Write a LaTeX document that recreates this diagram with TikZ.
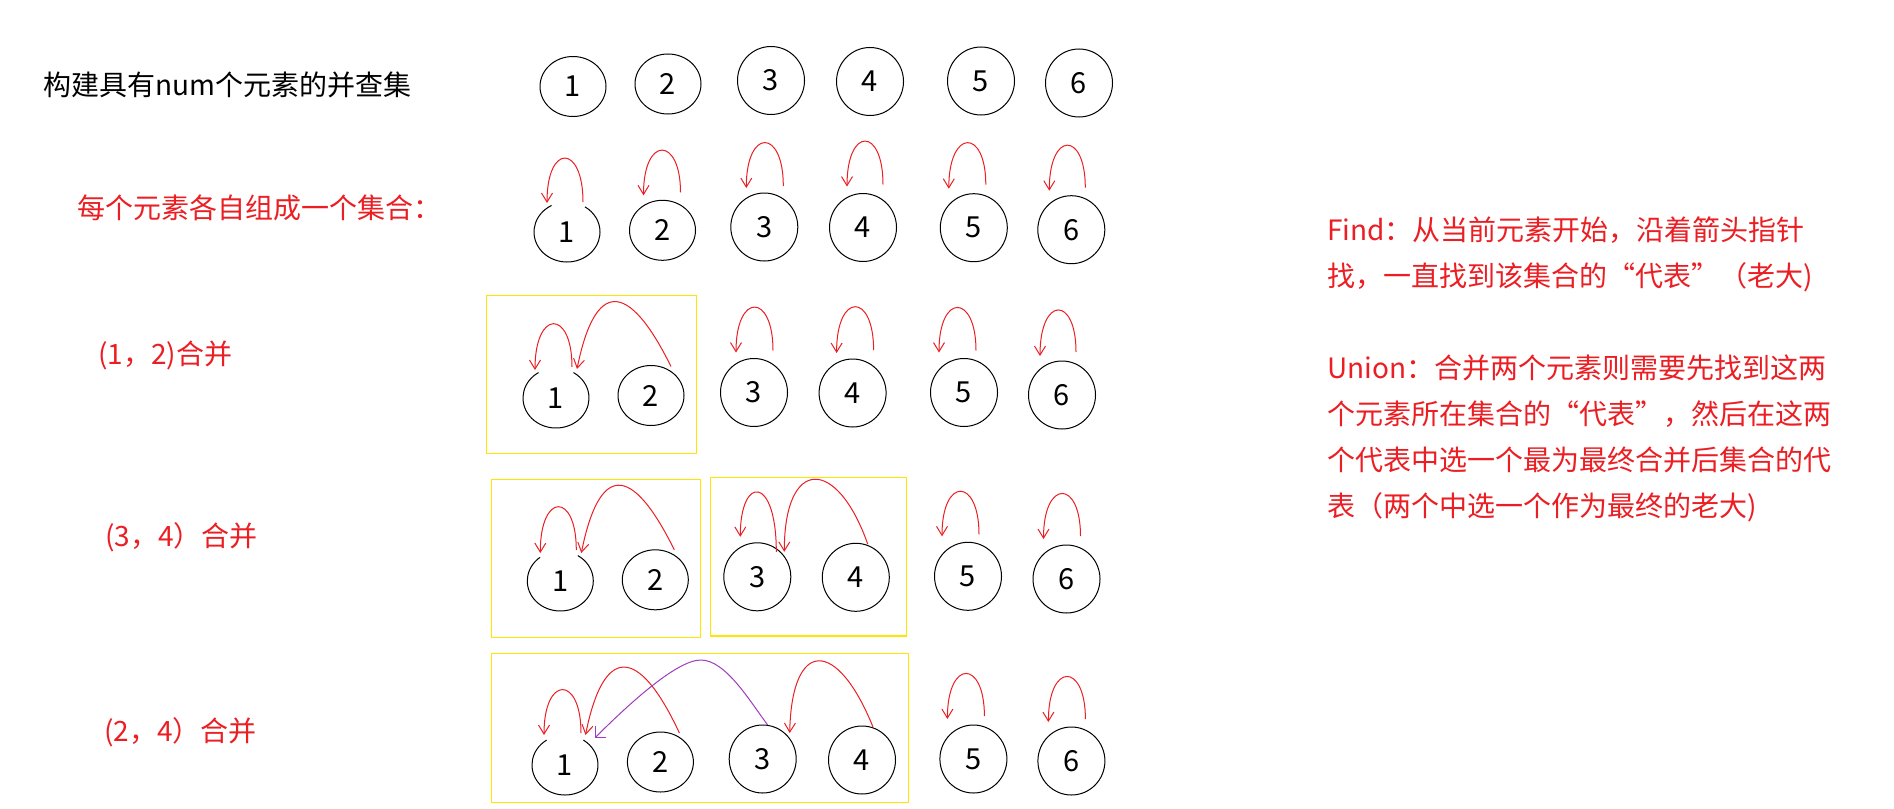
\documentclass[tikz,border=0pt]{standalone}
\usepackage{fontspec}
\setmainfont{Noto Sans CJK SC}
\usetikzlibrary{shapes.geometric,arrows.meta}
\definecolor{myred}{RGB}{235,30,35}
\definecolor{mypurple}{RGB}{160,60,190}
\definecolor{myyellow}{RGB}{255,230,0}
\newcommand\txtfont{\fontsize{28pt}{46pt}\selectfont}
\newcommand\numfont{\fontsize{29pt}{34pt}\selectfont}
% self loop: node, start dx, start dy, end dx, end dy, ctrl1 dy, ctrl2 dy
\newcommand\selfloop[7]{\draw[redarr] ([shift={(#2,#3)}]#1.center) .. controls +(0,#6) and +(0,#7) .. ([shift={(#4,#5)}]#1.center);}
% ring with a gap at its top: node, start angle, end angle
\newcommand\gapring[3]{\draw[line width=1pt] ([shift={(#2:33pt and 30pt)}]#1.center) arc[start angle=#2,end angle=#3,x radius=33pt,y radius=30pt];}
\begin{document}
\begin{tikzpicture}[x=1pt,y=-1pt,
  ringA/.style={ellipse,draw=black,line width=1pt,minimum width=66pt,minimum height=60pt,inner sep=0pt,font=\numfont},
  ringB/.style={ellipse,draw=black,line width=1pt,minimum width=67pt,minimum height=68pt,inner sep=0pt,font=\numfont},
  openA/.style={ringA,draw=none},
  redarr/.style={draw=myred,line width=1pt,-{Straight Barb[length=9pt,width=11pt]}},
  purparr/.style={draw=mypurple,line width=1pt,-{Straight Barb[length=8pt,width=16pt]}},
  frame/.style={draw=myyellow,line width=1.3pt},
  redtext/.style={text=myred,font=\txtfont,inner sep=0pt,anchor=base west},
  blacktext/.style={text=black,font=\txtfont,inner sep=0pt,anchor=base west}]
\useasboundingbox[fill=white] (0,0) rectangle (1894,808);

% frames
\draw[frame] (486.8,295.3) rectangle (696.7,453.3);
\draw[frame] (491.3,479.3) rectangle (700.7,637.3);
\draw[frame] (710.3,477.3) rectangle (906.3,636);
\draw[frame] (491.7,653.3) rectangle (908.5,802.7);

% texts
\node[blacktext] (title) at (43,95) {构建具有num个元素的并查集};
\node[redtext] (t1) at (77,218) {每个元素各自组成一个集合：};
\node[redtext] (t2) at (98,364) {(1，2)合并};
\node[redtext] (t3) at (105,546) {(3，4）合并};
\node[redtext] (t4) at (104,741) {(2，4）合并};
\node[redtext,align=left] (desc) at (1327,516) {Find：从当前元素开始，沿着箭头指针\\找，一直找到该集合的“代表”（老大)\\[46pt]Union：合并两个元素则需要先找到这两\\个元素所在集合的“代表”，然后在这两\\个代表中选一个最为最终合并后集合的代\\表（两个中选一个作为最终的老大)};

% row 1
\node[ringA] (r1n1) at (573,86.5) {1};
\node[ringA] (r1n2) at (668,84) {2};
\node[ringB] (r1n3) at (771,80.5) {3};
\node[ringB] (r1n4) at (870,81.5) {4};
\node[ringB] (r1n5) at (981,81) {5};
\node[ringB] (r1n6) at (1079,83) {6};

% row 2
\node[openA] (r2n1) at (567,232) {1};
\node[ringA] (r2n2) at (662.5,230.3) {2};
\node[ringB] (r2n3) at (764.3,227) {3};
\node[ringB] (r2n4) at (863,227.5) {4};
\node[ringB] (r2n5) at (973.8,227.7) {5};
\node[ringB] (r2n6) at (1071.3,229.7) {6};
\gapring{r2n1}{118}{417}
\selfloop{r2n1}{16}{-30}{-20}{-29}{-58}{-60}
\selfloop{r2n2}{18}{-38}{-19}{-35}{-56}{-60}
\selfloop{r2n3}{19}{-41}{-18}{-39}{-58}{-60}
\selfloop{r2n4}{20}{-43}{-16}{-41}{-58}{-60}
\selfloop{r2n5}{12}{-43}{-25}{-39}{-57}{-60}
\selfloop{r2n6}{14}{-42}{-22}{-39}{-57}{-60}

% row 3
\node[openA] (r3n1) at (556,398) {1};
\node[ringA] (r3n2) at (651,395.5) {2};
\node[ringB] (r3n3) at (754,392.5) {3};
\node[ringB] (r3n4) at (852.6,393) {4};
\node[ringB] (r3n5) at (964,392.5) {5};
\node[ringB] (r3n6) at (1062,395) {6};
\gapring{r3n1}{122}{418}
\selfloop{r3n1}{16}{-31}{-21}{-28}{-58}{-61}
\draw[redarr] ([shift={(20,-29)}]r3n2.center) .. controls +(-43,-87) and +(18,-89) .. ([shift={(21,-29)}]r3n1.center);
\selfloop{r3n3}{19}{-42}{-18}{-40}{-58}{-60}
\selfloop{r3n4}{21}{-43}{-16}{-40}{-58}{-61}
\selfloop{r3n5}{12}{-42}{-25}{-40}{-57}{-60}
\selfloop{r3n6}{14}{-43}{-22}{-39}{-57}{-60}

% row 4
\node[openA] (r4n1) at (560.3,581) {1};
\node[ringA] (r4n2) at (655.3,579.8) {2};
\node[ringB] (r4n3) at (757.3,576.8) {3};
\node[ringB] (r4n4) at (855.8,577.3) {4};
\node[ringB] (r4n5) at (968,576.3) {5};
\node[ringB] (r4n6) at (1066.5,579) {6};
\gapring{r4n1}{128}{418}
\selfloop{r4n1}{16}{-31}{-20}{-28}{-58}{-61}
\draw[redarr] ([shift={(19,-30)}]r4n2.center) .. controls +(-43,-87) and +(18,-89) .. ([shift={(21,-28)}]r4n1.center);
\selfloop{r4n3}{19}{-25}{-17}{-40}{-77}{-62}
\draw[redarr] ([shift={(12,-33)}]r4n4.center) .. controls +(-31,-88) and +(0,-95) .. ([shift={(27,-25)}]r4n3.center);
\selfloop{r4n5}{11}{-42}{-26}{-40}{-57}{-60}
\selfloop{r4n6}{14}{-43}{-23}{-40}{-57}{-60}

% row 5
\node[openA] (r5n1) at (565,765) {1};
\node[ringA] (r5n2) at (660.4,762) {2};
\node[ringB] (r5n3) at (762.7,759) {3};
\node[ringB] (r5n4) at (862,760) {4};
\node[ringB] (r5n5) at (973.4,759) {5};
\node[ringB] (r5n6) at (1071.4,761) {6};
\gapring{r5n1}{124}{416}
\selfloop{r5n1}{16}{-32}{-21}{-30}{-58}{-60}
\draw[redarr] ([shift={(19,-29)}]r5n2.center) .. controls +(-41,-88) and +(18,-90) .. ([shift={(20.5,-30)}]r5n1.center);
\draw[redarr] ([shift={(11,-33)}]r5n4.center) .. controls +(-36,-89) and +(2,-95) .. ([shift={(27,-26)}]r5n3.center);
\draw[purparr] ([shift={(5,-34)}]r5n3.center) .. controls +(-18,-24) and +(25,0) .. ([shift={(-62,-99)}]r5n3.center) .. controls +(-25,0) and +(30,-30) .. ([shift={(29.5,-26.7)}]r5n1.center);
\selfloop{r5n5}{11}{-43}{-26}{-40}{-57}{-60}
\selfloop{r5n6}{14}{-42}{-23}{-39}{-57}{-60}
\end{tikzpicture}
\end{document}
